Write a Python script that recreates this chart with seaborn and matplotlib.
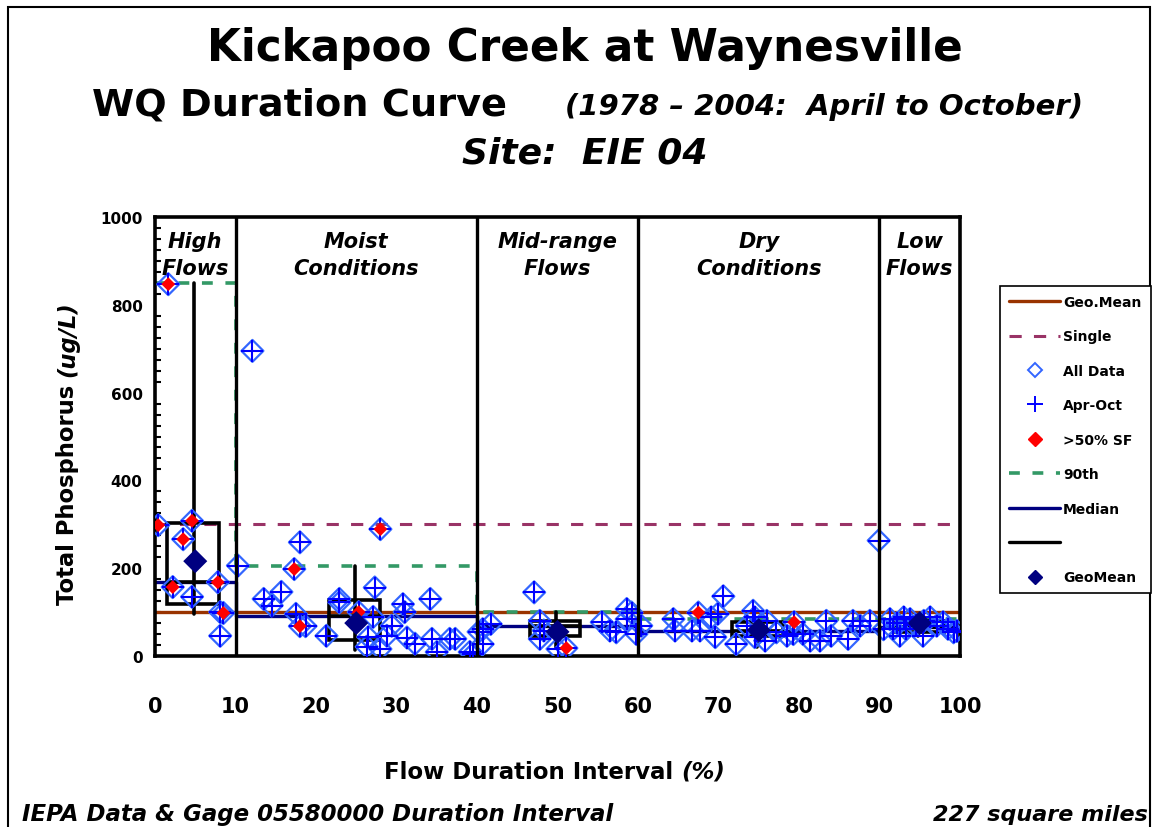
import numpy as np
import pandas as pd
import matplotlib
matplotlib.use('Agg')
import matplotlib.pyplot as plt
from matplotlib.lines import Line2D
from matplotlib.patches import Rectangle
import seaborn as sns

# --- data ---
all_x = [0.4, 1.65, 4.6, 3.5, 2.2, 7.8, 8.5, 8.1, 4.6, 8.1,
         10.3, 12.1, 18.0, 17.3, 15.7, 13.5, 14.5, 17.5, 18.0, 18.7, 21.3, 22.9, 22.9,
         25.3, 27.3, 28.0, 27.1, 26.5, 26.3, 28.0, 28.8, 29.4, 30.8, 31.0, 31.3, 32.3,
         34.2, 34.4, 35.0, 36.6, 37.3, 39.1,
         40.2, 39.5, 40.7, 40.7, 41.7, 47.1, 47.8, 47.8, 48.3, 50.0, 51.1, 55.5, 56.5,
         57.3, 58.6, 58.6, 59.8, 59.2,
         60.4, 64.4, 64.6, 66.7, 67.5, 67.7, 69.1, 69.9, 69.6, 70.6, 72.2, 74.3, 73.5,
         74.5, 75.8, 77.2, 78.5, 79.4, 79.3, 80.5, 81.4, 82.6, 83.4, 84.0, 86.1, 86.7,
         87.6, 88.8, 74.5, 76.0,
         89.9, 90.5, 91.3, 91.7, 92.5, 93.0, 93.8, 93.3, 95.4, 96.3, 97.1, 97.9, 99.2,
         99.6, 92.2, 94.5, 95.5, 98.5]
all_y = [298, 847, 308, 266, 157, 168, 98, 100, 135, 46,
         206, 695, 259, 198, 146, 130, 115, 96, 68, 68, 46, 130, 122,
         100, 156, 289, 89, 43, 21, 16, 46, 69, 118, 100, 42, 28,
         130, 39, 9, 39, 39, 9,
         55, 5, 61, 27, 73, 145, 80, 39, 58, 16, 18, 77, 58,
         54, 107, 84, 50, 99,
         69, 84, 58, 58, 99, 58, 88, 96, 43, 136, 27, 103, 69,
         43, 35, 54, 46, 77, 50, 50, 35, 35, 80, 46, 39, 80,
         69, 80, 88, 80,
         263, 61, 84, 61, 46, 88, 84, 61, 46, 88, 69, 77, 54,
         57, 75, 70, 80, 62]

sf_x = [0.4, 1.65, 4.6, 3.5, 2.2, 7.8, 8.5, 17.3, 18.0, 25.3, 28.0, 51.1, 67.5, 79.4]
sf_y = [298, 847, 308, 266, 157, 168, 98, 198, 68, 100, 289, 18, 99, 77]

zone_names = ['High\nFlows', 'Moist\nConditions', 'Mid-range\nFlows', 'Dry\nConditions', 'Low\nFlows']
zone_edges = [0, 10, 40, 60, 90, 100]
zone_mid = [5, 25, 50, 75, 95]

p90 = [850, 205, 100, 85, 85]
median = [168, 90, 68, 57, 65]
geomean_zone = [216, 75, 55, 59, 75]
q75 = [303, 128, 80, 77, 80]
q25 = [118, 37, 45, 46, 55]
p10 = [96, 14, 18, 20, 45]
box_left = [1.5, 21.6, 46.6, 71.7, 92.0]
box_right = [8.0, 28.0, 52.8, 78.0, 98.0]
geo_mean_all = 100
single_std = 300

sns.set_style('white')
plt.rcParams['font.family'] = ['DejaVu Sans']
plt.rcParams['font.weight'] = 'bold'
plt.rcParams['text.color'] = 'black'
plt.rcParams['axes.labelcolor'] = 'black'
plt.rcParams['xtick.color'] = 'black'
plt.rcParams['ytick.color'] = 'black'

fig = plt.figure(figsize=(11.52, 8.28), dpi=100)
ax = fig.add_axes([155 / 1152, 1 - 657 / 828, (960 - 155) / 1152, (657 - 218) / 828])

# reference lines
ax.plot([0, 100], [geo_mean_all, geo_mean_all], color='#993300', lw=2.4, zorder=2)
ax.plot([0, 100], [single_std, single_std], color='#993366', lw=2.2, ls=(0, (4, 4)), zorder=2)
ax.step(zone_edges, p90 + [p90[-1]], where='post', color='#339966', lw=2.6, ls=(0, (3, 3.5)), zorder=2)
ax.step(zone_edges, median + [median[-1]], where='post', color='#000080', lw=2.4, zorder=2)

# boxes per flow zone
for i in range(5):
    ax.add_patch(Rectangle((box_left[i], q25[i]), box_right[i] - box_left[i], q75[i] - q25[i],
                           fill=False, ec='black', lw=2.6, zorder=3))
    ax.plot([zone_mid[i] - 0.2, zone_mid[i] - 0.2], [p10[i], p90[i]], color='black', lw=2.6, zorder=3)
    ax.plot([box_left[i], box_right[i]], [median[i], median[i]], color='black', lw=2.6, zorder=3)

# zone dividers
for xe in zone_edges[1:-1]:
    ax.plot([xe, xe], [0, 1000], color='black', lw=2.4, zorder=6)

# points
df = pd.DataFrame({'x': all_x, 'y': all_y})
sns.scatterplot(data=df, x='x', y='y', marker='D', s=125, facecolor='none',
                edgecolor='#3366ff', linewidth=1.6, ax=ax, zorder=4)
sns.scatterplot(data=df, x='x', y='y', marker='+', s=230, color='#0000ff',
                linewidth=1.5, ax=ax, zorder=4)
sf = pd.DataFrame({'x': sf_x, 'y': sf_y})
sns.scatterplot(data=sf, x='x', y='y', marker='D', s=50, color='#ff0000',
                edgecolor='none', ax=ax, zorder=5)
gm = pd.DataFrame({'x': zone_mid, 'y': geomean_zone})
sns.scatterplot(data=gm, x='x', y='y', marker='D', s=150, color='#000080',
                edgecolor='none', ax=ax, zorder=5)

for name, xm in zip(zone_names, zone_mid):
    ax.text(xm, 915, name, ha='center', va='center', fontsize=15, fontstyle='italic',
            fontweight='bold', linespacing=1.42, zorder=7)

ax.set_xlim(0, 100)
ax.set_ylim(0, 1000)
ax.set_xticks(np.arange(0, 101, 10))
ax.set_yticks(np.arange(0, 1001, 200))
ax.set_yticks(np.arange(0, 1001, 25), minor=True)
ax.tick_params(axis='x', direction='inout', length=14, width=2.5, pad=22, labelsize=15)
ax.tick_params(axis='y', which='major', direction='inout', length=10, width=2.5, pad=4, labelsize=11)
ax.tick_params(axis='y', which='minor', direction='in', length=4, width=1.5, left=True)
for lab in ax.get_xticklabels() + ax.get_yticklabels():
    lab.set_fontweight('bold')
for sp in ax.spines.values():
    sp.set_linewidth(2.6)
    sp.set_color('black')
ax.set_xlabel('')
ax.set_ylabel('')

# axis titles: plain part + italic part, placed next to each other
renderer = fig.canvas.get_renderer()
xl1 = fig.text(0, 0.0676, 'Flow Duration Interval ', ha='left', va='center', fontsize=16.5, fontweight='bold')
xl2 = fig.text(0, 0.0676, '(%)', ha='left', va='center', fontsize=16.5, fontweight='bold', fontstyle='italic')
w1 = xl1.get_window_extent(renderer).width
w2 = xl2.get_window_extent(renderer).width
x0 = 555 - (w1 + w2) / 2
xl1.set_x(x0 / 1152)
xl2.set_x((x0 + w1) / 1152)

yl1 = fig.text(0.059, 0, 'Total Phosphorus ', ha='center', va='bottom', rotation=90, fontsize=16.3, fontweight='bold')
yl2 = fig.text(0.059, 0, '(ug/L)', ha='center', va='bottom', rotation=90, fontsize=16.3, fontweight='bold',
               fontstyle='italic')
h1 = yl1.get_window_extent(renderer).height
h2 = yl2.get_window_extent(renderer).height
y0 = (828 - 453) - (h1 + h2) / 2
yl1.set_y(y0 / 828)
yl2.set_y((y0 + h1) / 828)

# titles
fig.text(0.508, 0.942, 'Kickapoo Creek at Waynesville', ha='center', va='center', fontsize=31.5, fontweight='bold')
fig.text(0.080, 0.873, 'WQ Duration Curve', ha='left', va='center', fontsize=27.5, fontweight='bold')
fig.text(0.940, 0.871, '(1978 \u2013 2004:  April to October)', ha='right', va='center', fontsize=21,
         fontweight='bold', fontstyle='italic')
fig.text(0.508, 0.815, 'Site:  EIE 04', ha='center', va='center', fontsize=26, fontweight='bold', fontstyle='italic')

fig.text(0.019, 0.016, 'IEPA Data & Gage 05580000 Duration Interval', ha='left', va='center', fontsize=16.5,
         fontweight='bold', fontstyle='italic')
fig.text(0.996, 0.016, '227 square miles', ha='right', va='center', fontsize=16, fontweight='bold', fontstyle='italic')

# legend
handles = [
    Line2D([], [], color='#993300', lw=2.4),
    Line2D([], [], color='#993366', lw=2.2, ls=(0, (4, 4))),
    Line2D([], [], ls='none', marker='D', ms=7, mfc='none', mec='#3366ff', mew=1.4),
    Line2D([], [], ls='none', marker='+', ms=11, color='#0000ff', mew=1.4),
    Line2D([], [], ls='none', marker='D', ms=7, color='#ff0000'),
    Line2D([], [], color='#339966', lw=2.6, ls=(0, (3, 3.5))),
    Line2D([], [], color='#000080', lw=2.4),
    Line2D([], [], color='black', lw=2.4),
    Line2D([], [], ls='none', marker='D', ms=7, color='#000080'),
]
labels = ['Geo.Mean', 'Single', 'All Data', 'Apr-Oct', '>50% SF', '90th', 'Median', ' ', 'GeoMean']
leg = fig.legend(handles, labels, loc='upper left', bbox_to_anchor=(1000 / 1152, 1 - 287 / 828),
                 frameon=True, fancybox=False, edgecolor='black', framealpha=1,
                 prop={'size': 10, 'weight': 'bold'}, handlelength=3.7, labelspacing=1.47,
                 borderpad=0.65, handletextpad=0.2, borderaxespad=0)
leg.get_frame().set_linewidth(1.2)

fig.add_artist(Rectangle((8 / 1152, -0.05), (1150 - 8) / 1152, 1.05 - 8 / 828, transform=fig.transFigure,
                         fill=False, ec='black', lw=1.5))

fig.savefig('out.png', dpi=100)
